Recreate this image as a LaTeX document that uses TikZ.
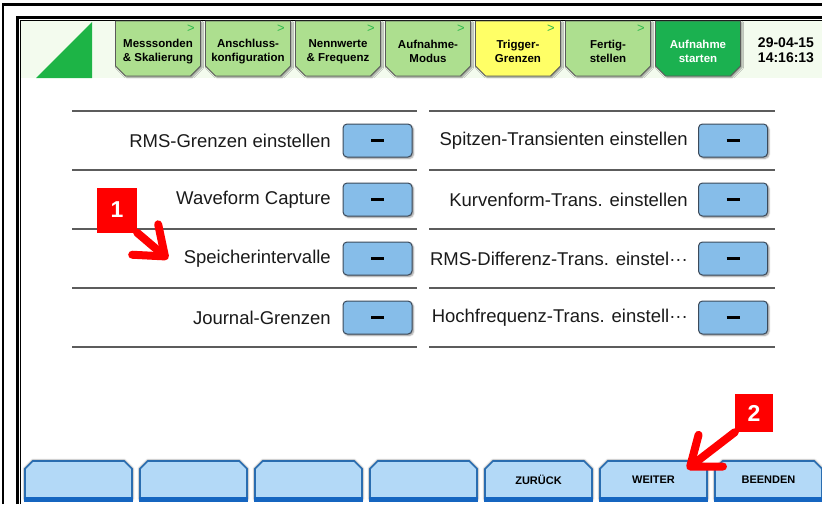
\documentclass[tikz,border=0pt]{standalone}
\usepackage{fontspec}
\setmainfont{Liberation Sans}
\usetikzlibrary{
    shapes.misc,
    arrows.meta,
    positioning,
    shadows.blur
}
\definecolor{frameline}{HTML}{000000}
\definecolor{headerbg}{HTML}{F3FBEE}
\definecolor{logo}{HTML}{1DB446}
\definecolor{tabgreen}{HTML}{ADDF8F}
\definecolor{tabyellow}{HTML}{FFFF66}
\definecolor{tabstart}{HTML}{1BB150}
\definecolor{tabedge}{HTML}{5A5A5A}
\definecolor{tabmark}{HTML}{2DB84C}
\definecolor{rowline}{HTML}{5C5C5C}
\definecolor{rowtext}{HTML}{1A1A1A}
\definecolor{keyblue}{HTML}{86BDE9}
\definecolor{keyedge}{HTML}{3C4A5A}
\definecolor{navblue}{HTML}{B3D9F7}
\definecolor{navedge}{HTML}{2A6DB0}
\definecolor{navbar}{HTML}{1565C0}
\definecolor{callout}{HTML}{FF0000}
\tikzset{
    % Menu tab style
    menutab/.style={
        chamfered rectangle,
        chamfered rectangle corners={south west,south east},
        chamfered rectangle sep=5pt,
        minimum width=85pt,
        minimum height=55pt,
        inner sep=0pt,
        align=center,
        font=\bfseries\fontsize{11.5}{14}\selectfont,
        draw=tabedge,
        fill=#1,
        line width=0.8pt,
        blur shadow={shadow blur steps=4, shadow xshift=1.5pt, shadow yshift=-1.5pt, shadow blur radius=1.5pt}
    },
    % Chevron on a tab
    tab arrow/.style={
        font=\fontsize{13}{13}\selectfont,
        text=tabmark,
        inner sep=0pt
    },
    % Row label style
    row label/.style={
        anchor=east,
        font=\fontsize{18.5}{20}\selectfont,
        text=rowtext,
        inner sep=0pt
    },
    % Minus key style
    minus key/.style={
        rectangle,
        rounded corners=4pt,
        minimum width=69pt,
        minimum height=33pt,
        draw=keyedge,
        fill=keyblue,
        line width=1pt,
        blur shadow={shadow blur steps=4, shadow xshift=1.5pt, shadow yshift=-1.5pt, shadow blur radius=1.5pt}
    },
    % Bottom navigation key style
    nav key/.style={
        chamfered rectangle,
        chamfered rectangle corners={north west,north east},
        chamfered rectangle sep=4pt,
        minimum width=107pt,
        minimum height=38pt,
        inner sep=0pt,
        font=\bfseries\fontsize{11}{12}\selectfont,
        draw=navedge,
        fill=navblue,
        line width=1.6pt,
        blur shadow={shadow blur steps=4, shadow xshift=0pt, shadow yshift=0pt, shadow blur radius=2.5pt, shadow opacity=90}
    },
    nav bar/.style={
        line width=5pt,
        draw=navbar
    },
    % Row separator
    row sep line/.style={
        line width=1.2pt,
        draw=rowline
    },
    % Red callout marker
    marker/.style={
        rectangle,
        minimum width=40pt,
        minimum height=40pt,
        fill=callout,
        text=white,
        font=\bfseries\fontsize{23}{23}\selectfont
    },
    pointer/.style={
        draw=callout,
        line width=8pt,
        line cap=round,
        line join=round,
        -{Straight Barb[length=26pt, width=40pt, round]}
    }
}

\begin{document}
\begin{tikzpicture}[x=1pt, y=-1pt]
        \useasboundingbox (0,0) rectangle (822,504);
        \clip (0,0) rectangle (822,504);
        
        % Screen frame
        \draw[frameline, line width=2.5pt] (3,504) -- (3,4.5) -- (822,4.5);
        \draw[frameline, line width=3pt] (17,504) -- (17,17) -- (822,17);
        \draw[frameline, line width=1pt] (20.5,504) -- (20.5,20.5) -- (822,20.5);
        
        % Header band and logo
        \fill[headerbg] (21,21) rectangle (822,78);
        \fill[logo] (36,78) -- (92,22) -- (92,78) -- cycle;
        
        % Menu tabs
        \node[menutab=tabgreen] (t1) at (158,48.5) {\rule{0pt}{15pt}Messsonden\\\& Skalierung};
        \node[menutab=tabgreen] (t2) at (248,48.5) {\rule{0pt}{15pt}Anschluss-\\konfiguration};
        \node[menutab=tabgreen] (t3) at (338,48.5) {\rule{0pt}{15pt}Nennwerte\\\& Frequenz};
        \node[menutab=tabgreen] (t4) at (428,48.5) {\rule{0pt}{15pt}Aufnahme-\\Modus};
        \node[menutab=tabyellow] (t5) at (518,48.5) {\rule{0pt}{15pt}Trigger-\\Grenzen};
        \node[menutab=tabgreen] (t6) at (608,48.5) {\rule{0pt}{15pt}Fertig-\\stellen};
        \node[menutab=tabstart, text=white] (t7) at (698,48.5) {\rule{0pt}{15pt}Aufnahme\\starten};
        
        \node[tab arrow] (a1) at (191,29) {>};
        \node[tab arrow] (a2) at (281,29) {>};
        \node[tab arrow] (a3) at (371,29) {>};
        \node[tab arrow] (a4) at (461,29) {>};
        \node[tab arrow] (a5) at (551,29) {>};
        \node[tab arrow] (a6) at (641,29) {>};
        
        % Date and time
        \node[align=center, font=\bfseries\fontsize{14}{15}\selectfont] (clock) at (786,50) {29-04-15\\14:16:13};
        
        % Row separators
        \draw[row sep line] (72,111) -- (417,111);
        \draw[row sep line] (72,170) -- (417,170);
        \draw[row sep line] (72,229) -- (417,229);
        \draw[row sep line] (72,288) -- (417,288);
        \draw[row sep line] (72,347) -- (417,347);
        \draw[row sep line] (429,111) -- (775,111);
        \draw[row sep line] (429,170) -- (775,170);
        \draw[row sep line] (429,229) -- (775,229);
        \draw[row sep line] (429,288) -- (775,288);
        \draw[row sep line] (429,347) -- (775,347);
        
        % Left column
        \node[row label] (rms) at (331,140.5) {RMS-Grenzen einstellen};
        \node[row label] (wave) at (331,199.5) {Waveform Capture};
        \node[row label] (store) at (331,258.5) {Speicherintervalle};
        \node[row label] (journal) at (331,317.5) {Journal-Grenzen};
        \node[minus key] (k1) at (377.5,140.5) {\rule{13pt}{3pt}};
        \node[minus key] (k2) at (377.5,199.5) {\rule{13pt}{3pt}};
        \node[minus key] (k3) at (377.5,258.5) {\rule{13pt}{3pt}};
        \node[minus key] (k4) at (377.5,317.5) {\rule{13pt}{3pt}};
        
        % Right column
        \node[row label] (peak) at (688,140.5) {Spitzen-Transienten einstellen};
        \node[row label] (curve) at (688,199.5) {Kurvenform-Trans. einstellen};
        \node[row label] (diff) at (688,258.5) {RMS-Differenz-Trans. einstel···};
        \node[row label] (hf) at (688,317.5) {Hochfrequenz-Trans. einstell···};
        \node[minus key] (k5) at (733,140.5) {\rule{13pt}{3pt}};
        \node[minus key] (k6) at (733,199.5) {\rule{13pt}{3pt}};
        \node[minus key] (k7) at (733,258.5) {\rule{13pt}{3pt}};
        \node[minus key] (k8) at (733,317.5) {\rule{13pt}{3pt}};
        
        % Navigation keys
        \node[nav key] (n1) at (78.5,480) {\phantom{WEITER}};
        \node[nav key] (n2) at (193.5,480) {\phantom{WEITER}};
        \node[nav key] (n3) at (308.5,480) {\phantom{WEITER}};
        \node[nav key] (n4) at (423.5,480) {\phantom{WEITER}};
        \node[nav key] (n5) at (538.5,480) {ZURÜCK};
        \node[nav key] (n6) at (653.5,480) {WEITER};
        \node[nav key] (n7) at (768.5,480) {BEENDEN};
        \draw[nav bar] (n1.south west) -- (n1.south east);
        \draw[nav bar] (n2.south west) -- (n2.south east);
        \draw[nav bar] (n3.south west) -- (n3.south east);
        \draw[nav bar] (n4.south west) -- (n4.south east);
        \draw[nav bar] (n5.south west) -- (n5.south east);
        \draw[nav bar] (n6.south west) -- (n6.south east);
        \draw[nav bar] (n7.south west) -- (n7.south east);
        
        % Callouts
        \node[marker, minimum height=45pt] (m1) at (117,210) {1};
        \coordinate (p1) at (168,259);
        \draw[pointer] (m1.south east) -- (p1);
        
        \node[marker, minimum width=38pt, minimum height=38pt] (m2) at (754,413) {2};
        \coordinate (p2) at (687,469);
        \draw[pointer] (m2.south west) -- (p2);
        
    \end{tikzpicture}
\end{document}
